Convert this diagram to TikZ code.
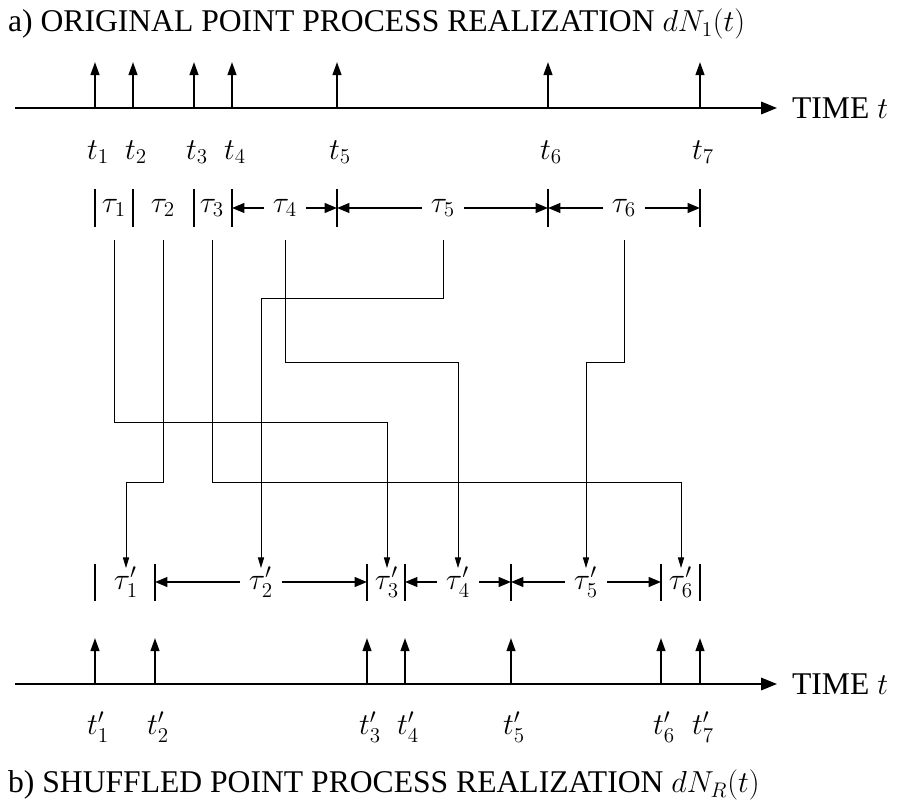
\documentclass[tikz,border=0pt]{standalone}
\usepackage{fontspec}
\setmainfont{Liberation Serif}
\usetikzlibrary{arrows.meta,positioning,calc}

\begin{document}
\begin{tikzpicture}[x=0.02cm,y=-0.02cm,
  axis/.style={line width=1.2pt,-{Triangle[length=9pt,width=7pt]}},
  spike/.style={line width=1.1pt,-{Triangle[length=7.5pt,width=5pt]}},
  bar/.style={line width=1.1pt},
  span/.style={line width=1.1pt,-{Triangle[length=7pt,width=5.5pt]}},
  wire/.style={line width=0.5pt,-{Triangle[length=6pt,width=3.5pt]}},
  lbl/.style={font=\fontsize{18}{21}\selectfont,inner sep=1pt},
  gap/.style={lbl,inner xsep=5pt}]
  \useasboundingbox (0,0) rectangle (905,807);
  % a) original realization
  \node[lbl,anchor=west] (titleA) at (6,24) {a) ORIGINAL POINT PROCESS REALIZATION $dN_1(t)$};
  \node[lbl,anchor=west] (timeA) at (790,108) {TIME $t$};
  \draw[axis] (15,108) -- (777,108);
  \foreach \x [count=\i] in {95,133,194,232,337,548,700} {
    \coordinate (p\i) at (\x,108);
    \draw[spike] (p\i) -- ++(0,-46);
    \node[lbl] (t\i) at (\x+3,152) {$t_{\i}$};
    \draw[bar] (\x,189) -- (\x,227);
  }
  % original intervals
  \node[lbl] (tau1) at (114,208) {$\tau_1$};
  \node[lbl] (tau2) at (163,208) {$\tau_2$};
  \node[lbl] (tau3) at (212,208) {$\tau_3$};
  \node[gap] (tau4) at (285,208) {$\tau_4$};
  \node[gap] (tau5) at (443,208) {$\tau_5$};
  \node[gap] (tau6) at (624,208) {$\tau_6$};
  \foreach \i/\l/\r in {4/4/5,5/5/6,6/6/7} {
    \draw[span] (tau\i.west) -- (tau\i.west -| p\l);
    \draw[span] (tau\i.east) -- (tau\i.east -| p\r);
  }
  % b) shuffled realization
  \node[lbl,anchor=west] (titleB) at (6,785) {b) SHUFFLED POINT PROCESS REALIZATION $dN_R(t)$};
  \node[lbl,anchor=west] (timeB) at (790,684) {TIME $t$};
  \draw[axis] (15,684) -- (777,684);
  \foreach \x [count=\i] in {95,155,367,405,511,661,700} {
    \coordinate (q\i) at (\x,684);
    \draw[spike] (q\i) -- ++(0,-46);
    \node[lbl] (tp\i) at (\x+3,727) {$t'_{\i}$};
    \draw[bar] (\x,564) -- (\x,601);
  }
  % shuffled intervals
  \node[lbl] (taup1) at (126,582) {$\tau'_1$};
  \node[gap] (taup2) at (261,582) {$\tau'_2$};
  \node[lbl] (taup3) at (387,582) {$\tau'_3$};
  \node[gap] (taup4) at (458,582) {$\tau'_4$};
  \node[gap] (taup5) at (586,582) {$\tau'_5$};
  \node[lbl] (taup6) at (681,582) {$\tau'_6$};
  \foreach \i/\l/\r in {2/2/3,4/4/5,5/5/6} {
    \draw[span] (taup\i.west) -- (taup\i.west -| q\l);
    \draw[span] (taup\i.east) -- (taup\i.east -| q\r);
  }
  % shuffling connectors
  \coordinate (top) at (0,240);
  \coordinate (bot) at (0,568);
  \coordinate (lvA) at (0,298);
  \coordinate (lvB) at (0,362);
  \coordinate (lvC) at (0,422);
  \coordinate (lvD) at (0,482);
  \foreach \a/\b/\l in {1/3/C,2/1/D,3/6/D,4/4/B,5/2/A,6/5/B}
    \draw[wire] (tau\a |- top) -- (tau\a |- lv\l) -| (taup\b |- bot);
\end{tikzpicture}
\end{document}
